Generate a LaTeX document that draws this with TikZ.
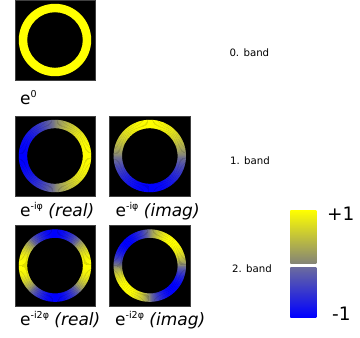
\documentclass[tikz,border=0pt]{standalone}
\usepackage{fontspec}
\setmainfont{DejaVu Sans}
\definecolor{yl}{rgb}{1,1,0}
\definecolor{bl}{rgb}{0,0,1}
\newcommand\supx[1]{\raisebox{6.3pt}{\fontsize{9.5}{10}\selectfont #1}}
% #1 x, #2 y, #3 mode: 1 = cos a, 2 = -sin a, 3 = cos 2a, 4 = -sin 2a
\newcommand\drawring[3]{%
  \begin{scope}[shift={(#1,#2)}]
    \foreach \ang in {0,2,...,358}{%
      \pgfmathsetmacro\am{\ang+1.2}%
      \ifcase#3\or
        \pgfmathsetmacro\vv{cos(\am)}\or
        \pgfmathsetmacro\vv{0-sin(\am)}\or
        \pgfmathsetmacro\vv{cos(2*\am)}\or
        \pgfmathsetmacro\vv{0-sin(2*\am)}\fi
      \pgfmathsetmacro\ww{ifthenelse(\vv<0,0-(abs(\vv))^0.8,(abs(\vv))^0.8)}%
      \pgfmathsetmacro\pc{max(0,min(100,50*(1+\ww)))}%
      \pgfmathsetmacro\ae{\ang+2.4}%
      \fill[yl!\pc!bl] (\ang:27.8) arc[start angle=\ang, end angle=\ae, radius=27.8]
        -- (\ae:36.2) arc[start angle=\ae, end angle=\ang, radius=36.2] -- cycle;
    }
  \end{scope}}
\tikzset{
  box/.style={draw=black!75, line width=0.4pt, fill=black, minimum width=80.5pt, minimum height=80.5pt, inner sep=0pt},
  lbl/.style={anchor=base west, inner sep=0pt, font=\fontsize{17}{20}\selectfont},
  bandlbl/.style={anchor=base west, inner sep=0pt, font=\fontsize{10.2}{12}\selectfont},
  cbarlbl/.style={anchor=base west, inner sep=0pt, font=\fontsize{18.5}{22}\selectfont},
}
\begin{document}
\begin{tikzpicture}[x=1pt,y=-1pt]
\useasboundingbox[fill=white] (0,0) rectangle (360,338);
% boxes
\node[box] (b0) at (55,40) {};
\node[box] (b1r) at (55,156) {};
\node[box] (b1i) at (149.8,156) {};
\node[box] (b2r) at (55,265.6) {};
\node[box] (b2i) at (149.8,265.6) {};
% rings
\fill[yl, even odd rule] (b0.center) circle[radius=36.2] (b0.center) circle[radius=27.8];
\drawring{55}{156}{1}
\drawring{149.8}{156}{2}
\drawring{55}{265.6}{3}
\drawring{149.8}{265.6}{4}
% labels
\node[lbl] (l0) at (20,104) {e\supx{0}};
\node[lbl] (l1r) at (20,216) {e\supx{-iφ} \textit{(real)}};
\node[lbl] (l1i) at (115.5,216) {e\supx{-iφ} \textit{(imag)}};
\node[lbl] (l2r) at (20,325) {e\supx{-i2φ} \textit{(real)}};
\node[lbl] (l2i) at (115,325) {e\supx{-i2φ} \textit{(imag)}};
% band labels
\node[bandlbl] (band0) at (229.3,56.7) {0. band};
\node[bandlbl] (band1) at (229.9,164.7) {1. band};
\node[bandlbl] (band2) at (231.9,272) {2. band};
% colour bar
\shade[top color=yl, bottom color={rgb,1:red,0.52;green,0.52;blue,0.46}] (290.5,210) rectangle (316.5,263);
\shade[top color={rgb,1:red,0.42;green,0.42;blue,0.62}, middle color={rgb,1:red,0.15;green,0.15;blue,0.9}, bottom color=bl] (290.5,267) rectangle (316.5,317);
\node[cbarlbl] (plus) at (327,220) {+1};
\node[cbarlbl] (minus) at (332,320) {-1};
\end{tikzpicture}
\end{document}
